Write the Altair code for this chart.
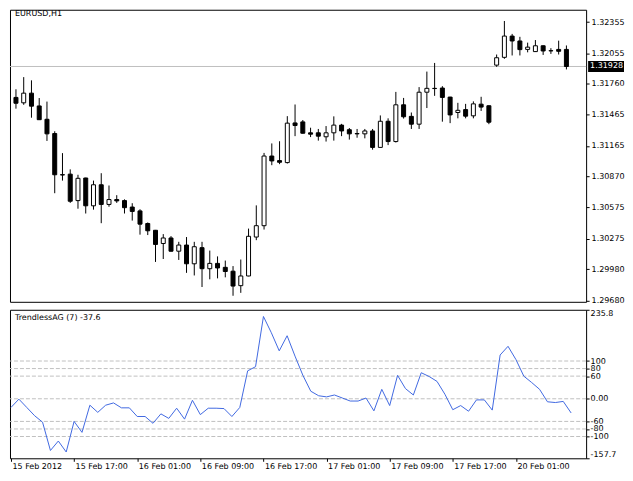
import json
import altair as alt
import pandas as pd

# ---------------- data ----------------
chart_title = "EURUSD,H1"
indicator_title = "TrendlessAG (7) -37.6"

opens = [
    1.31631, 1.31579, 1.31672, 1.31549, 1.31421, 1.31284, 1.30889, 1.30894, 1.30640, 1.30857,
    1.30590, 1.30792, 1.30603, 1.30650, 1.30640, 1.30578, 1.30541, 1.30420, 1.30355, 1.30228,
    1.30281, 1.30154, 1.30213, 1.30033, 1.30188, 1.29986, 1.30037, 1.29999, 1.29962, 1.29823,
    1.29916, 1.30290, 1.30399, 1.31068, 1.31024, 1.31005, 1.31386, 1.31396, 1.31291, 1.31291,
    1.31253, 1.31291, 1.31365, 1.31321, 1.31284, 1.31281, 1.31309, 1.31151, 1.31402, 1.31207,
    1.31560, 1.31449, 1.31374, 1.31681, 1.31718, 1.31721, 1.31634, 1.31486, 1.31514, 1.31454,
    1.31566, 1.31551, 1.31941, 1.32016, 1.32220, 1.32173, 1.32092, 1.32071, 1.32127, 1.32080,
    1.32092, 1.32092]

highs = [
    1.31709, 1.31826, 1.31795, 1.31625, 1.31591, 1.31306, 1.31096, 1.30940, 1.30888, 1.30860,
    1.30832, 1.30903, 1.30785, 1.30692, 1.30652, 1.30615, 1.30557, 1.30430, 1.30358, 1.30318,
    1.30299, 1.30244, 1.30290, 1.30244, 1.30244, 1.30160, 1.30104, 1.30064, 1.30011, 1.30074,
    1.30371, 1.30594, 1.31098, 1.31189, 1.31210, 1.31451, 1.31563, 1.31414, 1.31340, 1.31328,
    1.31356, 1.31449, 1.31377, 1.31337, 1.31328, 1.31328, 1.31328, 1.31458, 1.31430, 1.31684,
    1.31626, 1.31486, 1.31730, 1.31879, 1.31962, 1.31739, 1.31637, 1.31579, 1.31569, 1.31593,
    1.31637, 1.31554, 1.32043, 1.32365, 1.32241, 1.32213, 1.32157, 1.32182, 1.32130, 1.32104,
    1.32176, 1.32130]

lows = [
    1.31523, 1.31560, 1.31436, 1.31414, 1.31213, 1.30711, 1.30832, 1.30618, 1.30562, 1.30516,
    1.30553, 1.30423, 1.30581, 1.30618, 1.30516, 1.30448, 1.30313, 1.30309, 1.30051, 1.30079,
    1.30150, 1.30070, 1.29946, 1.29921, 1.29810, 1.29884, 1.29893, 1.29903, 1.29726, 1.29754,
    1.29913, 1.30260, 1.30362, 1.30980, 1.30990, 1.30996, 1.31259, 1.31284, 1.31250, 1.31216,
    1.31207, 1.31216, 1.31259, 1.31226, 1.31244, 1.31238, 1.31129, 1.31148, 1.31173, 1.31198,
    1.31428, 1.31328, 1.31328, 1.31529, 1.31646, 1.31398, 1.31384, 1.31430, 1.31430, 1.31430,
    1.31501, 1.31374, 1.31925, 1.32002, 1.32034, 1.32034, 1.32064, 1.32068, 1.32039, 1.32049,
    1.32043, 1.31900]

closes = [
    1.31575, 1.31672, 1.31547, 1.31417, 1.31281, 1.30888, 1.30886, 1.30634, 1.30854, 1.30590,
    1.30792, 1.30603, 1.30650, 1.30637, 1.30572, 1.30536, 1.30414, 1.30350, 1.30219, 1.30281,
    1.30154, 1.30213, 1.30033, 1.30197, 1.29986, 1.30037, 1.29993, 1.29959, 1.29819, 1.29916,
    1.30297, 1.30399, 1.31068, 1.31021, 1.31008, 1.31384, 1.31361, 1.31287, 1.31278, 1.31259,
    1.31291, 1.31365, 1.31309, 1.31281, 1.31281, 1.31309, 1.31151, 1.31402, 1.31207, 1.31560,
    1.31445, 1.31374, 1.31681, 1.31718, 1.31716, 1.31631, 1.31463, 1.31507, 1.31451, 1.31569,
    1.31538, 1.31393, 1.32012, 1.32220, 1.32173, 1.32090, 1.32114, 1.32127, 1.32077, 1.32078,
    1.32074, 1.31928]

trend = [
    -23, -1, -23, -45, -62, -137, -112, -141, -60, -89,
    -17, -36, -17, -11, -24, -24, -47, -47, -65, -40,
    -52, -25, -54, -4, -42, -25, -25, -26, -47, -23,
    74, 85, 218, 175, 127, 167, 113, 62, 20, 8,
    5, 10, 2, -6, -6, 2, -32, 25, -18, 62,
    27, 10, 69, 59, 46, 12, -29, -18, -33, -3,
    -3, -30, 116, 139, 104, 60, 43, 25, -8, -10,
    -7, -37.6]

time_labels = ["15 Feb 2012", "15 Feb 17:00", "16 Feb 01:00", "16 Feb 09:00",
               "16 Feb 17:00", "17 Feb 01:00", "17 Feb 09:00", "17 Feb 17:00",
               "20 Feb 01:00"]
time_label_bars = [0, 8, 16, 24, 32, 40, 48, 56, 64]

price_ticks = [1.32355, 1.32055, 1.31760, 1.31465, 1.31165,
               1.30870, 1.30575, 1.30275, 1.29980, 1.29680]
last_price = 1.31928

level_values = [100, 80, 60, 0, -60, -80, -100]
ind_ticks = [235.8, 100, 80, 60, 0, -60, -80, -100, -157.7]
ind_tick_labels = ["235.8", "100", "80", "60", "0.00", "-60", "-80", "-100", "-157.7"]

# ---------------- chart ----------------
FONT = "DejaVu Sans"
W = 578
H_MAIN = 293
H_IND = 149

df = pd.DataFrame({
    "bar": list(range(len(opens))),
    "open": opens, "high": highs, "low": lows, "close": closes,
    "trend": trend,
})
df["dir"] = ["up" if c > o else "down" for o, c in zip(opens, closes)]

x_scale = alt.Scale(domain=[-0.1263, 72.90], nice=False, zero=False)
price_scale = alt.Scale(domain=[1.29668, 1.32473], nice=False, zero=False)
ind_scale = alt.Scale(domain=[-157.7, 235.8], nice=False, zero=False)

price_axis = alt.Axis(orient="right", values=price_ticks, format=".5f", tickSize=3,
                      labelPadding=2, grid=False, domain=False, title=None,
                      labelFont=FONT, labelFontSize=8, labelColor="black",
                      tickColor="black", labelOverlap=False)

time_expr = json.dumps(time_labels) + "[round(datum.value / 8)]"
time_axis = alt.Axis(values=time_label_bars, labelExpr=time_expr, labelAlign="left",
                     labelOffset=1, labelPadding=1, tickSize=3, grid=False, domain=False,
                     title=None, labelFont=FONT, labelFontSize=8, labelColor="black",
                     tickColor="black", labelFlush=False, labelOverlap=False,
                     labelBaseline="top")

ind_expr = " : ".join(f"datum.value == {v} ? '{l}'" for v, l in zip(ind_ticks, ind_tick_labels)) + " : ''"
ind_axis = alt.Axis(orient="right", values=ind_ticks, labelExpr=ind_expr, tickSize=3,
                    labelPadding=1, grid=False, domain=False, title=None,
                    labelFont=FONT, labelFontSize=8, labelColor="black",
                    tickColor="black", labelOverlap=False, labelFlush=True)

price_df = pd.DataFrame({"p": [last_price], "label": [f"{last_price:.5f}"]})

close_line = alt.Chart(price_df).mark_rule(color="#c0c0c0", strokeWidth=1).encode(
    y=alt.Y("p:Q", scale=price_scale, axis=price_axis))

wicks = alt.Chart(df).mark_rule(color="black", strokeWidth=1, clip=True).encode(
    x=alt.X("bar:Q", scale=x_scale, axis=None),
    y=alt.Y("low:Q", scale=price_scale, axis=price_axis),
    y2="high:Q")

bodies = alt.Chart(df).mark_bar(size=4, stroke="black", strokeWidth=1, clip=True).encode(
    x=alt.X("bar:Q", scale=x_scale, axis=None),
    y=alt.Y("open:Q", scale=price_scale, axis=price_axis),
    y2="close:Q",
    fill=alt.Fill("dir:N", scale=alt.Scale(domain=["up", "down"], range=["white", "black"]),
                  legend=None))

tag_box = alt.Chart(price_df).mark_rect(color="black", yOffset=-5.5, y2Offset=5.5).encode(
    x=alt.value(W + 2), x2=alt.value(W + 38),
    y=alt.Y("p:Q", scale=price_scale, axis=price_axis), y2="p:Q")

tag_text = alt.Chart(price_df).mark_text(color="white", align="left", baseline="middle",
                                         font=FONT, fontSize=8).encode(
    x=alt.value(W + 4),
    y=alt.Y("p:Q", scale=price_scale, axis=price_axis),
    text="label:N")

title_main = alt.Chart(pd.DataFrame({"t": [chart_title]})).mark_text(
    align="left", baseline="top", font=FONT, fontSize=8, color="black").encode(
    x=alt.value(5), y=alt.value(0), text="t:N")

main = alt.layer(close_line, wicks, bodies, tag_box, tag_text, title_main).properties(
    width=W, height=H_MAIN)

levels = alt.Chart(pd.DataFrame({"v": level_values})).mark_rule(
    color="#c0c0c0", strokeWidth=1, strokeDash=[4, 2]).encode(
    y=alt.Y("v:Q", scale=ind_scale, axis=ind_axis))

ind_line = alt.Chart(df).mark_line(color="#4169e1", strokeWidth=1).encode(
    x=alt.X("bar:Q", scale=x_scale, axis=time_axis),
    y=alt.Y("trend:Q", scale=ind_scale, axis=ind_axis))

title_ind = alt.Chart(pd.DataFrame({"t": [indicator_title]})).mark_text(
    align="left", baseline="top", font=FONT, fontSize=8, color="black").encode(
    x=alt.value(5), y=alt.value(4), text="t:N")

ind = alt.layer(levels, ind_line, title_ind).properties(width=W, height=H_IND)

chart = alt.vconcat(main, ind, spacing=3).properties(
    padding=0,
    background="white",
).configure(padding=0).configure_view(stroke="black", strokeWidth=1)

chart.save("out.html", embed_options={"renderer": "svg", "actions": False})
